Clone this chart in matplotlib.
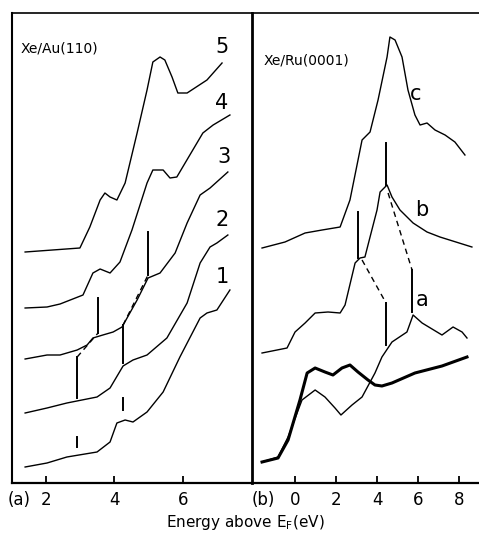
import matplotlib
matplotlib.use("Agg")
import matplotlib.pyplot as plt

# ---------------- data: panel (a) Xe/Au(110) ----------------
e5 = [1.39, 2.99, 3.28, 3.58, 3.72, 3.87, 4.07, 4.31, 4.66, 4.95, 5.12, 5.33, 5.47, 5.68, 5.85, 6.12, 6.70, 7.14]
i5 = [231, 235, 256, 283, 290, 286, 283, 300, 350, 393, 421, 426, 423, 406, 390, 390, 403, 420]
e4 = [1.39, 2.03, 2.41, 3.08, 3.37, 3.58, 3.87, 4.16, 4.51, 4.95, 5.12, 5.42, 5.62, 5.82, 6.58, 6.88, 7.37]
i4 = [175, 176, 179, 188, 210, 214, 210, 221, 253, 300, 313, 313, 305, 306, 350, 358, 368]
e3 = [1.39, 2.03, 2.41, 2.91, 3.20, 3.37, 3.66, 3.96, 4.22, 4.66, 4.98, 5.33, 5.77, 6.12, 6.50, 6.79, 7.31]
i3 = [124, 128, 128, 133, 138, 145, 148, 151, 156, 183, 205, 210, 230, 260, 288, 295, 311]
e2 = [1.39, 2.03, 2.61, 3.49, 3.87, 4.25, 4.54, 4.95, 5.53, 6.12, 6.50, 6.79, 6.99, 7.31]
i2 = [70, 75, 80, 86, 95, 117, 123, 128, 145, 180, 220, 236, 240, 248]
e1 = [1.39, 2.03, 2.61, 3.49, 3.87, 4.07, 4.31, 4.54, 4.95, 5.42, 5.91, 6.50, 6.70, 6.99, 7.37]
i1 = [16, 20, 26, 31, 41, 60, 63, 61, 71, 91, 126, 165, 170, 173, 193]
curves_a = [(e1, i1), (e2, i2), (e3, i3), (e4, i4), (e5, i5)]
labels_a = ["1", "2", "3", "4", "5"]
label_pos_a = [(7.14, 206), (7.14, 263), (7.2, 326), (7.14, 380), (7.14, 436)]

# peak markers (energy, low, high)
marks_a = [(2.91, 85, 126), (4.25, 120, 158), (3.52, 150, 185), (4.98, 208, 251),
           (2.91, 36, 46), (4.25, 73, 85)]
dash_a = [((2.91, 126), (3.52, 150)), ((4.25, 158), (4.98, 208))]

# ---------------- data: panel (b) Xe/Ru(0001) ----------------
ec = [-1.61, -0.49, 0.49, 1.32, 2.20, 2.68, 3.27, 3.66, 4.05, 4.49, 4.63, 4.88, 5.22, 5.51, 5.85, 6.10, 6.44, 6.83, 7.32, 7.80, 8.29]
ic = [235, 241, 250, 253, 256, 283, 343, 351, 383, 426, 446, 443, 426, 393, 368, 358, 360, 353, 348, 341, 328]
eb = [-1.61, -0.39, 0.0, 0.49, 0.98, 1.61, 2.20, 2.44, 2.93, 3.17, 3.41, 3.66, 4.0, 4.15, 4.49, 4.73, 5.12, 5.76, 6.44, 7.07, 8.63]
ib = [130, 135, 151, 160, 170, 171, 170, 178, 220, 225, 226, 246, 273, 291, 298, 286, 273, 260, 251, 246, 236]
ea = [-1.61, -0.83, -0.34, 0.34, 0.98, 1.46, 1.95, 2.24, 2.78, 3.27, 3.90, 4.24, 4.73, 5.46, 5.76, 6.20, 7.17, 7.71, 8.15, 8.39]
ia = [21, 26, 46, 83, 93, 86, 75, 68, 78, 86, 110, 126, 141, 151, 168, 160, 148, 156, 151, 145]
eru = [-1.61, -0.83, -0.34, 0.24, 0.59, 0.98, 1.46, 1.85, 2.29, 2.68, 3.07, 3.56, 3.90, 4.24, 4.73, 5.85, 7.17, 8.39]
iru = [21, 25, 43, 83, 110, 115, 111, 108, 115, 118, 111, 103, 98, 97, 100, 110, 117, 126]
labels_b = [("c", 5.9, 389), ("b", 6.2, 273), ("a", 6.2, 183)]
marks_b = [(3.07, 225, 271), (4.44, 298, 340), (4.44, 138, 180), (5.71, 171, 213)]
dash_b = [((3.27, 223), (4.44, 180)), ((4.54, 290), (5.71, 213))]

W, H = 479, 534
fig = plt.figure(figsize=(W / 100, H / 100), dpi=100)
fig.patch.set_facecolor("white")

axa = fig.add_axes([12 / W, 51 / H, 240 / W, 470 / H])
axb = fig.add_axes([252 / W, 51 / H, 227 / W, 470 / H])

for ax in (axa, axb):
    ax.set_ylim(0, 470)
    ax.set_yticks([])
    ax.spines["right"].set_visible(False)
    ax.spines["top"].set_linewidth(1.2)
    ax.spines["bottom"].set_linewidth(1.6)
    ax.tick_params(axis="x", direction="in", length=5, width=1.3, labelsize=12, pad=6, top=False)
axa.spines["left"].set_linewidth(1.5)
axb.spines["left"].set_linewidth(2.0)

axa.set_xlim(1.007, 8.015)
axa.set_xticks([2, 4, 6])
axb.set_xlim(-2.1, 8.976)
axb.set_xticks([0, 2, 4, 6, 8])

for (e, i) in curves_a:
    axa.plot(e, i, color="black", lw=1.0)
for lab, (x, y) in zip(labels_a, label_pos_a):
    axa.text(x, y, lab, fontsize=15, ha="center", va="center")
for (x, lo, hi) in marks_a:
    axa.plot([x, x], [lo, hi], color="black", lw=1.4)
for (p, q) in dash_a:
    axa.plot([p[0], q[0]], [p[1], q[1]], color="black", lw=1.0, ls=(0, (4, 3)))
axa.text(0.035, 0.925, "Xe/Au(110)", transform=axa.transAxes, fontsize=10, ha="left", va="center")

axb.plot(ec, ic, color="black", lw=1.0)
axb.plot(eb, ib, color="black", lw=1.0)
axb.plot(ea, ia, color="black", lw=1.0)
axb.plot(eru, iru, color="black", lw=2.2)
for lab, x, y in labels_b:
    axb.text(x, y, lab, fontsize=15, ha="center", va="center")
for (x, lo, hi) in marks_b:
    axb.plot([x, x], [lo, hi], color="black", lw=1.4)
for (p, q) in dash_b:
    axb.plot([p[0], q[0]], [p[1], q[1]], color="black", lw=1.0, ls=(0, (4, 3)))
axb.text(0.05, 0.9, "Xe/Ru(0001)", transform=axb.transAxes, fontsize=10, ha="left", va="center")

fig.text(19 / W, 1 - 500 / H, "(a)", fontsize=12, ha="center", va="center")
fig.text(263 / W, 1 - 500 / H, "(b)", fontsize=12, ha="center", va="center")
fig.text(245 / W, 1 - 522 / H, r"Energy above E$_\mathregular{F}$(eV)", fontsize=11, ha="center", va="center")

fig.savefig("out.png", dpi=100)
